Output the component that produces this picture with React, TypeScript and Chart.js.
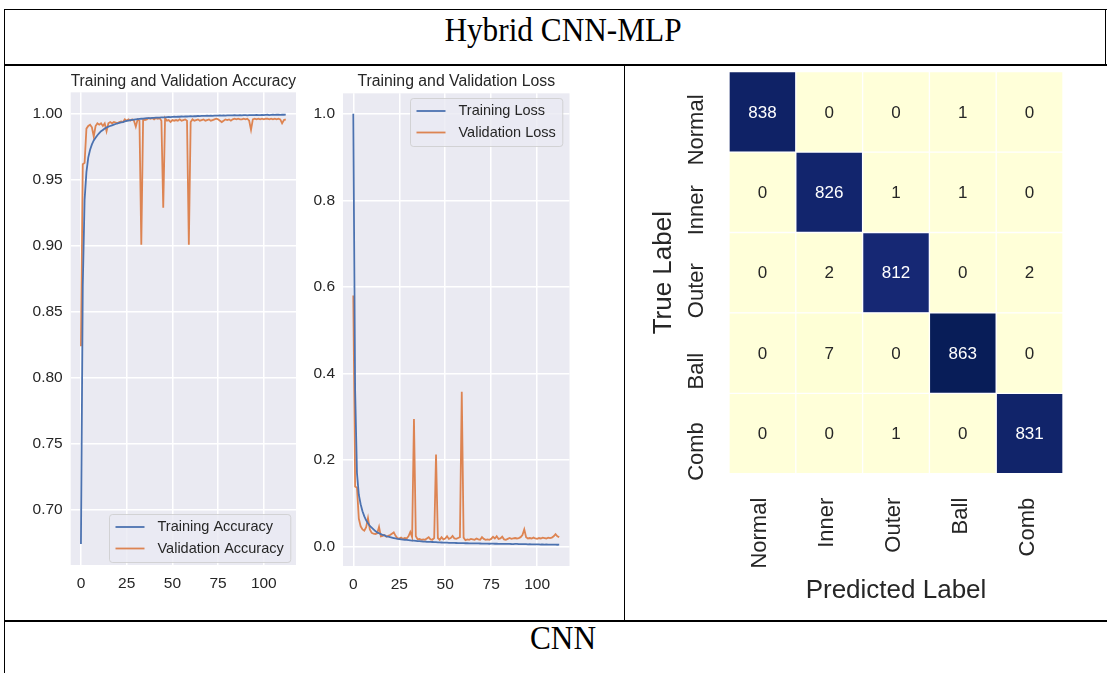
import React, { useEffect, useRef } from "react";
import { Chart, registerables } from "chart.js";

Chart.register(...registerables);

// ---------------- data ----------------
const EPOCHS: number[] = Array.from({ length: 113 }, (_, i) => i);

const trainAcc = [
  0.674, 0.870, 0.935, 0.956, 0.967, 0.973, 0.977, 0.980, 0.982, 0.984,
  0.9855, 0.987, 0.988, 0.989, 0.9898, 0.9905, 0.991, 0.9915, 0.992, 0.9925,
  0.993, 0.9933, 0.9937, 0.994, 0.9945, 0.9948, 0.9951, 0.9954, 0.9956, 0.9958,
  0.9960, 0.9962, 0.9964, 0.9965, 0.9966, 0.9968, 0.9969, 0.9970, 0.9970, 0.9972,
  0.9971, 0.9973, 0.9974, 0.9973, 0.9975, 0.9976, 0.9975, 0.9977, 0.9978, 0.9977,
  0.9979, 0.9980, 0.9979, 0.9981, 0.9980, 0.9982, 0.9981, 0.9983, 0.9982, 0.9983,
  0.9984, 0.9983, 0.9985, 0.9984, 0.9986, 0.9985, 0.9986, 0.9987, 0.9986, 0.9988,
  0.9987, 0.9988, 0.9987, 0.9989, 0.9988, 0.9989, 0.9990, 0.9988, 0.9990, 0.9989,
  0.9991, 0.9990, 0.9991, 0.9990, 0.9992, 0.9991, 0.9990, 0.9992, 0.9991, 0.9992,
  0.9993, 0.9991, 0.9992, 0.9993, 0.9992, 0.9993, 0.9994, 0.9992, 0.9993, 0.9994,
  0.9993, 0.9994, 0.9995, 0.9993, 0.9994, 0.9995, 0.9994, 0.9995, 0.9996, 0.9994,
  0.9996, 0.9995, 0.9996,
];

const valAcc = [
  0.824, 0.962, 0.963, 0.989, 0.991, 0.992, 0.990, 0.983, 0.991, 0.993,
  0.992, 0.993, 0.991, 0.993, 0.987, 0.993, 0.994, 0.993, 0.994, 0.9935,
  0.993, 0.994, 0.9945, 0.994, 0.996, 0.995, 0.996, 0.995, 0.996, 0.995,
  0.9905, 0.996, 0.995, 0.901, 0.996, 0.9955, 0.996, 0.997, 0.9965, 0.997,
  0.996, 0.997, 0.9965, 0.997, 0.995, 0.929, 0.997, 0.995, 0.9955, 0.994,
  0.9955, 0.995, 0.9955, 0.995, 0.996, 0.995, 0.9955, 0.996, 0.995, 0.901,
  0.994, 0.996, 0.995, 0.9955, 0.996, 0.995, 0.9955, 0.996, 0.995, 0.9955,
  0.996, 0.995, 0.9955, 0.996, 0.9965, 0.996, 0.995, 0.994, 0.995, 0.996,
  0.9955, 0.996, 0.995, 0.996, 0.9965, 0.996, 0.9965, 0.996, 0.996, 0.9965,
  0.996, 0.9965, 0.995, 0.988, 0.996, 0.9965, 0.996, 0.9965, 0.996, 0.9965,
  0.996, 0.9965, 0.9965, 0.996, 0.9965, 0.996, 0.9965, 0.996, 0.9965, 0.996,
  0.993, 0.9955, 0.996,
];

const trainLoss = [
  1.000, 0.360, 0.170, 0.120, 0.098, 0.082, 0.070, 0.061, 0.054, 0.048,
  0.044, 0.040, 0.036, 0.033, 0.031, 0.029, 0.027, 0.026, 0.024, 0.023,
  0.022, 0.021, 0.020, 0.019, 0.018, 0.0175, 0.017, 0.0165, 0.016, 0.0155,
  0.015, 0.0145, 0.014, 0.0138, 0.0135, 0.013, 0.0127, 0.0124, 0.012, 0.0117,
  0.0114, 0.0112, 0.011, 0.0108, 0.0106, 0.0104, 0.0101, 0.0099, 0.0097, 0.0095,
  0.0093, 0.0092, 0.009, 0.0089, 0.0088, 0.0086, 0.0085, 0.0084, 0.0083, 0.0082,
  0.0081, 0.008, 0.0079, 0.0078, 0.0078, 0.0077, 0.0076, 0.0075, 0.0075, 0.0074,
  0.0073, 0.0072, 0.0072, 0.0071, 0.0068, 0.0070, 0.0069, 0.0068, 0.0068, 0.0065,
  0.0067, 0.0066, 0.0064, 0.0065, 0.0063, 0.0064, 0.0062, 0.0061, 0.0066, 0.0064,
  0.0058, 0.0060, 0.0059, 0.0057, 0.0058, 0.0055, 0.0056, 0.0054, 0.0055, 0.0053,
  0.0052, 0.0053, 0.0050, 0.0051, 0.0049, 0.0050, 0.0048, 0.0047, 0.0048, 0.0046,
  0.0047, 0.0045, 0.0046,
];

const valLoss = [
  0.580, 0.139, 0.136, 0.065, 0.047, 0.040, 0.037, 0.045, 0.066, 0.040,
  0.032, 0.030, 0.029, 0.031, 0.046, 0.024, 0.025, 0.027, 0.023, 0.025,
  0.027, 0.030, 0.033, 0.025, 0.020, 0.019, 0.021, 0.018, 0.020, 0.019,
  0.024, 0.034, 0.022, 0.295, 0.024, 0.017, 0.018, 0.016, 0.017, 0.016,
  0.019, 0.022, 0.017, 0.016, 0.020, 0.213, 0.020, 0.016, 0.022, 0.017,
  0.019, 0.024, 0.018, 0.020, 0.025, 0.019, 0.018, 0.020, 0.022, 0.358,
  0.021, 0.015, 0.017, 0.016, 0.018, 0.017, 0.016, 0.019, 0.017, 0.016,
  0.022, 0.018, 0.016, 0.017, 0.016, 0.018, 0.023, 0.019, 0.024, 0.018,
  0.019, 0.023, 0.017, 0.016, 0.018, 0.020, 0.018, 0.019, 0.020, 0.019,
  0.020, 0.022, 0.027, 0.040, 0.022, 0.019, 0.020, 0.019, 0.021, 0.019,
  0.018, 0.020, 0.019, 0.021, 0.020, 0.019, 0.021, 0.020, 0.021, 0.024,
  0.029, 0.024, 0.022,
];

const accLabels = ["Training Accuracy", "Validation Accuracy"];
const lossLabels = ["Training Loss", "Validation Loss"];

const xTicks = [0, 25, 50, 75, 100];
const accTicks = [0.7, 0.75, 0.8, 0.85, 0.9, 0.95, 1.0];
const lossTicks = [0.0, 0.2, 0.4, 0.6, 0.8, 1.0];

const classes = ["Normal", "Inner", "Outer", "Ball", "Comb"];
const rowNormal = [838, 0, 0, 1, 0];
const rowInner = [0, 826, 1, 1, 0];
const rowOuter = [0, 2, 812, 0, 2];
const rowBall = [0, 7, 0, 863, 0];
const rowComb = [0, 0, 1, 0, 831];
const confusion = [rowNormal, rowInner, rowOuter, rowBall, rowComb];

// ---------------- style ----------------
const FONT = "'Liberation Sans', Arial, sans-serif";
const INK = "#262626";
const BLUE = "#4C72B0";
const ORANGE = "#DD8452";
const PANEL = "#EAEAF2";

const YLGNBU = [
  [255, 255, 217], [237, 248, 177], [199, 233, 180], [127, 205, 187], [65, 182, 196],
  [29, 145, 192], [34, 94, 168], [37, 52, 148], [8, 29, 88],
];
function cmap(f: number): number[] {
  const t = Math.max(0, Math.min(1, f)) * (YLGNBU.length - 1);
  const i = Math.min(YLGNBU.length - 2, Math.floor(t));
  const r = t - i;
  return YLGNBU[i].map((c, k) => Math.round(c + (YLGNBU[i + 1][k] - c) * r));
}
function lum(rgb: number[]): number {
  const l = rgb.map((c) => {
    const s = c / 255;
    return s <= 0.03928 ? s / 12.92 : Math.pow((s + 0.055) / 1.055, 2.4);
  });
  return 0.2126 * l[0] + 0.7152 * l[1] + 0.0722 * l[2];
}
const VMAX = Math.max(...confusion.flat());
const VMIN = Math.min(...confusion.flat());

// ---------------- plugins ----------------
const panelBg = {
  id: "panelBg",
  beforeDraw(chart: any) {
    const { ctx, chartArea: a } = chart;
    ctx.save();
    ctx.fillStyle = PANEL;
    ctx.fillRect(a.left, a.top, a.right - a.left, a.bottom - a.top);
    ctx.restore();
  },
};

const boxLegend = {
  id: "boxLegend",
  afterDatasetsDraw(chart: any, _args: any, opts: any) {
    const { ctx, chartArea: a } = chart;
    const ds = chart.data.datasets;
    ctx.save();
    ctx.font = `14.5px ${FONT}`;
    const tw = Math.max(...ds.map((d: any) => ctx.measureText(d.label).width));
    const padL = 6, handle = 29, gap = 13, padR = 7, h = 48;
    const w = padL + handle + gap + tw + padR;
    const x0 = Math.round(a.right - opts.right - w) + 0.5;
    const y0 = Math.round(opts.corner === "top" ? a.top + opts.offset : a.bottom - opts.offset - h) + 0.5;
    ctx.beginPath();
    ctx.roundRect(x0, y0, w, h, 3);
    ctx.fillStyle = "rgba(234,234,242,0.8)";
    ctx.fill();
    ctx.strokeStyle = "rgba(204,204,204,0.8)";
    ctx.lineWidth = 1;
    ctx.stroke();
    ds.forEach((d: any, i: number) => {
      const cy = y0 + 12.5 + i * 21.5;
      ctx.beginPath();
      ctx.moveTo(x0 + padL, cy);
      ctx.lineTo(x0 + padL + handle, cy);
      ctx.strokeStyle = d.borderColor;
      ctx.lineWidth = 1.8;
      ctx.stroke();
      ctx.fillStyle = INK;
      ctx.textAlign = "left";
      ctx.textBaseline = "middle";
      ctx.fillText(d.label, x0 + padL + handle + gap, cy);
    });
    ctx.restore();
  },
};

const matrixText = {
  id: "matrixText",
  afterDatasetsDraw(chart: any) {
    const { ctx, chartArea: a, scales } = chart;
    const xs = scales.x, ys = scales.y;
    ctx.save();
    ctx.textAlign = "center";
    ctx.textBaseline = "middle";
    ctx.font = `17px ${FONT}`;
    confusion.forEach((row, i) =>
      row.forEach((v, j) => {
        const c = cmap((v - VMIN) / (VMAX - VMIN));
        ctx.fillStyle = lum(c) > 0.408 ? INK : "#ffffff";
        ctx.fillText(String(v), xs.getPixelForValue(j + 0.5), ys.getPixelForValue(i) + 1);
      })
    );
    ctx.fillStyle = INK;
    ctx.font = `22px ${FONT}`;
    classes.forEach((c, i) => {
      ctx.save();
      ctx.translate(a.left - 32, ys.getPixelForValue(i) + 18);
      ctx.rotate(-Math.PI / 2);
      ctx.textAlign = "center";
      ctx.fillText(c, 0, 0);
      ctx.restore();
    });
    classes.forEach((c, j) => {
      ctx.save();
      ctx.translate(xs.getPixelForValue(j + 0.5) - 2, a.bottom + 24);
      ctx.rotate(-Math.PI / 2);
      ctx.textAlign = "right";
      ctx.fillText(c, 0, 0);
      ctx.restore();
    });
    ctx.font = `26px ${FONT}`;
    ctx.textAlign = "center";
    ctx.fillText("Predicted Label", (a.left + a.right) / 2, a.bottom + 117);
    ctx.save();
    ctx.translate(a.left - 65, (a.top + a.bottom) / 2);
    ctx.rotate(-Math.PI / 2);
    ctx.fillText("True Label", 0, 0);
    ctx.restore();
    ctx.restore();
  },
};

// ---------------- configs ----------------
function lineConfig(p: {
  title: string;
  series: number[][];
  labels: string[];
  yMin: number;
  yMax: number;
  yTicks: number[];
  decimals: number;
  yWidth: number;
  padRight: number;
  padBottom: number;
  titleBottom: number;
  legend: any;
}) {
  return {
    type: "line",
    data: {
      datasets: p.series.map((s, k) => ({
        label: p.labels[k],
        data: s.map((v, i) => ({ x: EPOCHS[i], y: v })),
        borderColor: k === 0 ? BLUE : ORANGE,
        backgroundColor: k === 0 ? BLUE : ORANGE,
        borderWidth: 1.8,
        pointRadius: 0,
        tension: 0,
        fill: false,
      })),
    },
    options: {
      animation: false,
      responsive: false,
      events: [],
      layout: { padding: { left: 0, right: p.padRight, top: 0, bottom: p.padBottom } },
      plugins: {
        legend: { display: false },
        tooltip: { enabled: false },
        title: {
          display: true,
          text: p.title,
          fullSize: false,
          color: INK,
          font: { family: FONT, size: 15.8, weight: "normal", lineHeight: 1.2 },
          padding: { top: 6, bottom: p.titleBottom },
        },
        boxLegend: p.legend,
      },
      scales: {
        x: {
          type: "linear",
          min: -5.6,
          max: 117.6,
          afterBuildTicks: (s: any) => {
            s.ticks = xTicks.map((v) => ({ value: v }));
          },
          afterFit: (s: any) => {
            s.height = 30;
          },
          grid: { color: "#ffffff", lineWidth: 1.5, drawTicks: false },
          border: { display: false },
          ticks: { padding: 9.5, color: INK, font: { family: FONT, size: 15.5 }, callback: (v: any) => String(v) },
        },
        y: {
          type: "linear",
          min: p.yMin,
          max: p.yMax,
          afterBuildTicks: (s: any) => {
            s.ticks = p.yTicks.map((v) => ({ value: v }));
          },
          afterFit: (s: any) => {
            s.width = p.yWidth;
          },
          grid: { color: "#ffffff", lineWidth: 1.5, drawTicks: false },
          border: { display: false },
          ticks: {
            padding: 8,
            color: INK,
            font: { family: FONT, size: 15.5 },
            callback: (v: any) => (Math.abs(v) < 1e-9 ? 0 : v).toFixed(p.decimals),
          },
        },
      },
    },
    plugins: [panelBg, boxLegend],
  };
}

function matrixConfig() {
  return {
    type: "bar",
    data: {
      labels: classes,
      datasets: classes.map((c, j) => ({
        label: c,
        data: confusion.map(() => [j, j + 1]),
        backgroundColor: confusion.map((row) => {
          const rgb = cmap((row[j] - VMIN) / (VMAX - VMIN));
          return `rgb(${rgb[0]},${rgb[1]},${rgb[2]})`;
        }),
        borderColor: "#ffffff",
        borderWidth: 1,
        borderSkipped: false,
        barPercentage: 1,
        categoryPercentage: 1,
        grouped: false,
      })),
    },
    options: {
      indexAxis: "y",
      animation: false,
      responsive: false,
      events: [],
      layout: { padding: { left: 103, right: 41, top: 5.7, bottom: 146.3 } },
      plugins: { legend: { display: false }, tooltip: { enabled: false } },
      scales: {
        x: { type: "linear", min: 0, max: 5, display: false },
        y: { type: "category", display: false },
      },
    },
    plugins: [matrixText],
  };
}

function ChartCanvas(props: { config: () => any; left: number; top: number; width: number; height: number }) {
  const ref = useRef<HTMLCanvasElement | null>(null);
  useEffect(() => {
    if (!ref.current) return;
    const chart = new Chart(ref.current, props.config());
    return () => chart.destroy();
  }, []);
  return (
    <canvas
      ref={ref}
      width={props.width}
      height={props.height}
      style={{ position: "absolute", left: props.left, top: props.top, width: props.width, height: props.height }}
    />
  );
}

function Line(p: { x: number; y: number; w: number; h: number }) {
  return <div style={{ position: "absolute", left: p.x, top: p.y, width: p.w, height: p.h, background: "#000" }} />;
}

export default function App() {
  const serif: React.CSSProperties = {
    position: "absolute",
    width: 400,
    textAlign: "center",
    fontFamily: "'Liberation Serif', 'Times New Roman', serif",
    fontSize: 34,
    lineHeight: "34px",
    color: "#000",
    transform: "scaleX(0.92)",
    whiteSpace: "nowrap",
  };
  return (
    <div style={{ position: "absolute", left: 0, top: 0, width: 1107, height: 673, background: "#fff", overflow: "hidden" }}>
      <Line x={4} y={9} w={1103} h={1} />
      <Line x={4} y={9} w={1} h={664} />
      <Line x={1105} y={9} w={1} h={56} />
      <Line x={4} y={64} w={1103} h={2} />
      <Line x={624} y={65} w={1} h={556} />
      <Line x={4} y={620} w={1103} h={2} />
      <div style={{ ...serif, left: 563 - 200, top: 13 }}>Hybrid CNN-MLP</div>
      <div style={{ ...serif, left: 563 - 200, top: 621 }}>CNN</div>
      <ChartCanvas
        left={5}
        top={66}
        width={300}
        height={554}
        config={() =>
          lineConfig({
            title: "Training and Validation Accuracy",
            series: [trainAcc, valAcc],
            labels: accLabels,
            yMin: 0.658,
            yMax: 1.0165,
            yTicks: accTicks,
            decimals: 2,
            yWidth: 65.7,
            padRight: 9,
            padBottom: 25,
            titleBottom: 1.4,
            legend: { corner: "bottom", right: 6, offset: 3.5 },
          })
        }
      />
      <ChartCanvas
        left={305}
        top={66}
        width={315}
        height={554}
        config={() =>
          lineConfig({
            title: "Training and Validation Loss",
            series: [trainLoss, valLoss],
            labels: lossLabels,
            yMin: -0.0446,
            yMax: 1.047,
            yTicks: lossTicks,
            decimals: 1,
            yWidth: 38,
            padRight: 50.5,
            padBottom: 24,
            titleBottom: 2.4,
            legend: { corner: "top", right: 7, offset: 5 },
          })
        }
      />
      <ChartCanvas left={626} top={66} width={478} height={554} config={matrixConfig} />
    </div>
  );
}
